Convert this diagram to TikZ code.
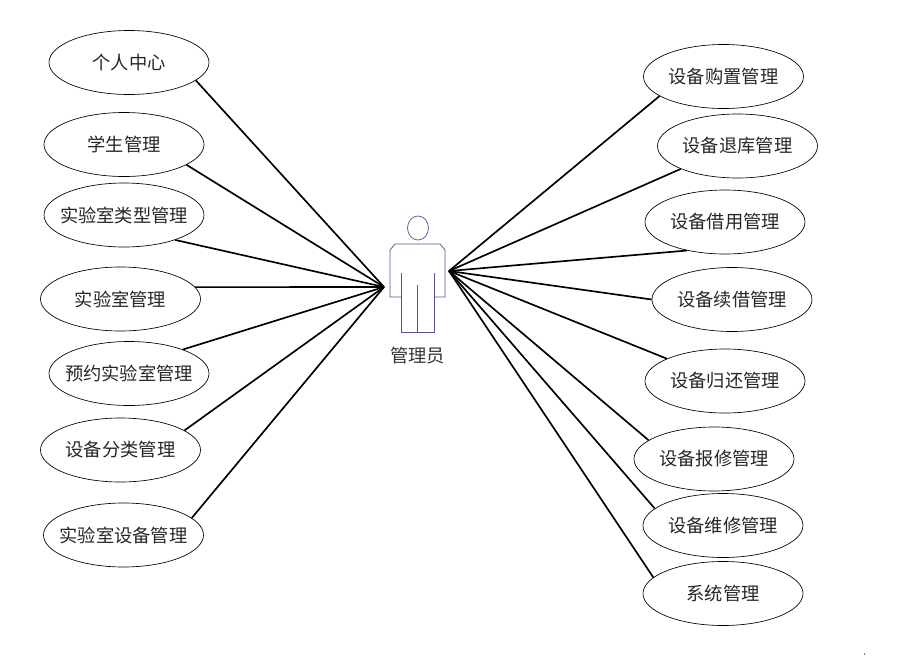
\documentclass[tikz,border=0pt]{standalone}
\usepackage{fontspec}
\newfontfamily\cjk{Noto Sans CJK SC}[Scale=1]
\usetikzlibrary{shapes.geometric}
\definecolor{actorblue}{RGB}{90, 80, 150}
\tikzset{
	usecase/.style={draw, ellipse, inner ysep=0pt, inner xsep=-9pt, minimum width=120pt, minimum height=48pt,
		line width=0.5pt, font=\cjk\fontsize{13.7pt}{16pt}\selectfont, text=black!85},
	link/.style={black, line width=1.25pt},
	actor/.style={actorblue, line width=0.55pt}
}
\begin{document}
\begin{tikzpicture}[x=0.75pt, y=-0.75pt]
	\useasboundingbox (0,0) rectangle (908,657);
	%--- Left column ---
	\node[usecase] (center) at (129,62.5) {个人中心};
	\node[usecase] (student) at (124,144.5) {学生管理};
	\node[usecase] (labtype) at (124,215) {实验室类型管理};
	\node[usecase] (lab) at (120.5,299) {实验室管理};
	\node[usecase] (booking) at (129,373.5) {预约实验室管理};
	\node[usecase] (category) at (120.5,450) {设备分类管理};
	\node[usecase] (labdevice) at (123.5,535) {实验室设备管理};
	%--- Right column ---
	\node[usecase] (purchase) at (723.5,76.5) {设备购置管理};
	\node[usecase] (retire) at (737.5,146) {设备退库管理};
	\node[usecase] (borrow) at (725,222) {设备借用管理};
	\node[usecase] (renew) at (732,299.5) {设备续借管理};
	\node[usecase] (giveback) at (725,381) {设备归还管理};
	\node[usecase] (report) at (714,459) {设备报修管理};
	\node[usecase] (repair) at (723,525.5) {设备维修管理};
	\node[usecase] (system) at (723,593.5) {系统管理};
	%--- Actor ---
	\node[draw=actorblue, line width=0.55pt, ellipse, inner sep=0pt, minimum width=15.75pt, minimum height=18pt] (head) at (418,228) {};
	\draw[actor] (401,297) -- (390,297) -- (390,250) -- (395,244) -- (440,244) -- (445,250) -- (445,297) -- (434,297);
	\draw[actor] (401,273) -- (401,332) -- (434,332) -- (434,273);
	\draw[actor] (417,285) -- (417,332);
	\node[font=\cjk\fontsize{13.7pt}{16pt}\selectfont, text=black!80] (admin) at (417.5,355.5) {管理员};
	\coordinate (handL) at (384,287);
	\coordinate (handR) at (449,271);
	%--- Connectors ---
	\foreach \name/\ang in {center/-15, student/-18, labtype/-26, lab/9, booking/24, category/17.5, labdevice/14.7}
		\draw[link] (handL) -- (\name.\ang);
	\foreach \name/\ang in {purchase/-163.4, retire/-158, borrow/-143, renew/180, giveback/159, report/164, repair/166, system/167}
		\draw[link] (handR) -- (\name.\ang);
	% speck in the corner
	\fill[black!50] (864,653) rectangle (865,655);
\end{tikzpicture}
\end{document}
